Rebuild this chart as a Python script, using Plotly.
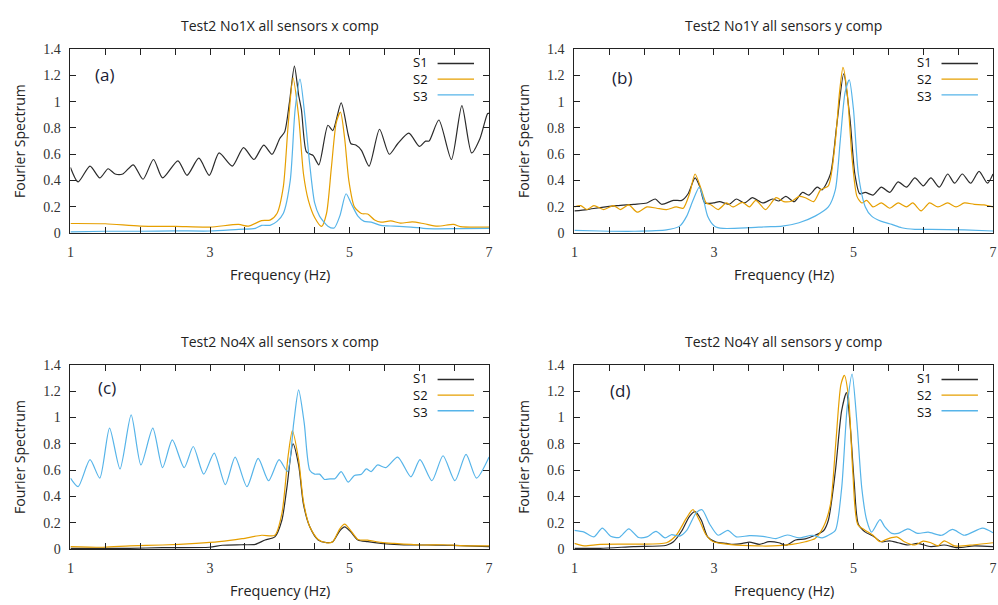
import plotly.graph_objects as go

# ---------------- data (frequency in Hz, Fourier spectrum amplitude) ----------------
# Panel (a) Test2 No1X
a_s1_f = [1.00,1.11,1.28,1.42,1.54,1.64,1.75,1.90,2.04,2.19,2.32,2.54,2.67,2.84,2.99,3.13,3.32,3.48,3.63,3.77,3.89,4.00,4.07,4.14,4.21,4.27,4.31,4.38,4.44,4.48,4.56,4.69,4.76,4.88,4.98,5.02,5.09,5.17,5.28,5.43,5.57,5.69,5.85,6.00,6.09,6.14,6.28,6.46,6.61,6.75,6.87,6.98,7.00]
a_s1_v = [0.50,0.39,0.51,0.42,0.49,0.45,0.45,0.52,0.41,0.56,0.42,0.55,0.44,0.57,0.44,0.61,0.51,0.65,0.56,0.67,0.60,0.72,0.77,1.00,1.27,1.05,0.94,0.62,0.60,0.59,0.52,0.82,0.78,0.99,0.75,0.68,0.67,0.63,0.51,0.79,0.60,0.68,0.76,0.66,0.70,0.70,0.86,0.56,0.97,0.61,0.72,0.91,0.91]
a_s2_f = [1.0,1.5,2.0,2.5,3.0,3.41,3.55,3.74,3.86,3.96,4.05,4.12,4.19,4.27,4.34,4.41,4.50,4.60,4.67,4.74,4.81,4.87,4.93,4.99,5.07,5.17,5.26,5.36,5.45,5.59,5.73,5.90,6.07,6.26,6.49,6.59,7.0]
a_s2_v = [0.074,0.072,0.054,0.052,0.047,0.067,0.054,0.096,0.10,0.15,0.35,0.82,1.18,0.89,0.45,0.25,0.12,0.052,0.15,0.50,0.84,0.92,0.72,0.40,0.20,0.15,0.146,0.10,0.084,0.094,0.077,0.086,0.072,0.054,0.067,0.05,0.047]
a_s3_f = [1.0,1.5,2.0,2.5,3.0,3.41,3.65,3.74,3.86,3.96,4.05,4.15,4.22,4.29,4.36,4.43,4.50,4.57,4.69,4.78,4.86,4.95,5.02,5.12,5.21,5.31,5.45,5.64,5.88,6.11,6.59,7.0]
a_s3_v = [0.01,0.015,0.015,0.018,0.017,0.03,0.037,0.06,0.06,0.09,0.15,0.40,0.94,1.17,0.89,0.52,0.23,0.13,0.054,0.04,0.13,0.30,0.23,0.13,0.09,0.084,0.06,0.054,0.047,0.035,0.035,0.037]

# Panel (b) Test2 No1Y
b_s1_f = [1.00,1.18,1.37,1.61,1.85,2.04,2.16,2.25,2.42,2.54,2.63,2.73,2.80,2.87,2.99,3.08,3.22,3.32,3.44,3.55,3.70,3.84,3.93,4.03,4.15,4.27,4.36,4.48,4.55,4.67,4.76,4.86,4.95,5.02,5.09,5.17,5.28,5.40,5.52,5.64,5.76,5.88,6.00,6.11,6.23,6.35,6.45,6.56,6.68,6.80,6.92,7.00]
b_s1_v = [0.17,0.18,0.195,0.21,0.22,0.23,0.26,0.22,0.25,0.25,0.30,0.42,0.35,0.23,0.23,0.24,0.22,0.26,0.23,0.27,0.23,0.26,0.245,0.28,0.24,0.31,0.29,0.35,0.33,0.45,0.82,1.21,0.87,0.45,0.30,0.31,0.29,0.35,0.31,0.39,0.35,0.42,0.36,0.42,0.35,0.45,0.38,0.45,0.38,0.47,0.38,0.45]
b_s2_f = [1.00,1.09,1.18,1.28,1.42,1.56,1.66,1.78,1.90,2.04,2.18,2.32,2.46,2.56,2.65,2.73,2.82,2.89,2.96,3.06,3.18,3.27,3.41,3.51,3.60,3.74,3.89,4.00,4.12,4.22,4.31,4.43,4.53,4.64,4.74,4.80,4.85,4.91,4.98,5.05,5.12,5.19,5.28,5.40,5.52,5.64,5.76,5.85,5.97,6.09,6.21,6.35,6.47,6.59,6.73,6.87,7.00]
b_s2_v = [0.20,0.21,0.18,0.21,0.18,0.21,0.18,0.215,0.16,0.20,0.19,0.18,0.20,0.19,0.30,0.45,0.33,0.23,0.215,0.18,0.23,0.20,0.235,0.20,0.25,0.18,0.27,0.24,0.245,0.28,0.27,0.24,0.33,0.36,0.70,1.07,1.26,1.07,0.57,0.28,0.23,0.25,0.20,0.23,0.19,0.23,0.20,0.23,0.17,0.23,0.20,0.23,0.20,0.23,0.22,0.215,0.20]
b_s3_f = [1.0,1.37,1.85,2.32,2.51,2.61,2.70,2.79,2.84,2.91,3.01,3.13,3.51,3.74,3.98,4.22,4.45,4.64,4.74,4.81,4.88,4.94,5.00,5.07,5.17,5.26,5.40,5.55,5.69,5.88,6.11,6.59,7.00]
b_s3_v = [0.022,0.017,0.015,0.025,0.054,0.13,0.25,0.35,0.28,0.13,0.054,0.037,0.042,0.049,0.054,0.08,0.13,0.20,0.33,0.70,1.07,1.165,0.94,0.45,0.20,0.13,0.09,0.067,0.042,0.030,0.030,0.025,0.017]

# Panel (c) Test2 No4X
c_s1_f = [1.0,1.85,2.32,2.99,3.18,3.46,3.65,3.79,3.93,4.03,4.10,4.19,4.27,4.34,4.43,4.55,4.67,4.76,4.86,4.93,5.02,5.12,5.26,5.45,5.64,5.92,6.11,6.35,6.59,7.0]
c_s1_v = [0.007,0.007,0.012,0.015,0.03,0.034,0.037,0.07,0.094,0.22,0.46,0.80,0.64,0.34,0.17,0.07,0.05,0.057,0.14,0.17,0.13,0.07,0.057,0.044,0.037,0.032,0.032,0.030,0.027,0.02]
c_s2_f = [1.0,1.47,1.85,2.32,2.80,3.13,3.46,3.74,3.93,4.03,4.12,4.18,4.27,4.34,4.43,4.55,4.67,4.76,4.86,4.93,5.02,5.12,5.26,5.45,5.64,6.02,6.35,6.59,7.0]
c_s2_v = [0.02,0.015,0.025,0.032,0.044,0.057,0.08,0.106,0.106,0.27,0.71,0.90,0.68,0.36,0.17,0.074,0.049,0.057,0.155,0.19,0.14,0.074,0.069,0.052,0.044,0.032,0.034,0.027,0.025]
c_s3_f = [1.00,1.11,1.28,1.42,1.56,1.71,1.87,2.01,2.18,2.32,2.46,2.63,2.76,2.91,3.06,3.22,3.36,3.53,3.69,3.84,3.99,4.11,4.20,4.27,4.35,4.43,4.50,4.57,4.64,4.72,4.79,4.88,4.98,5.07,5.17,5.24,5.31,5.40,5.52,5.69,5.88,6.01,6.18,6.34,6.51,6.67,6.82,7.00]
c_s3_v = [0.54,0.475,0.68,0.54,0.92,0.61,1.02,0.64,0.92,0.62,0.83,0.62,0.78,0.57,0.73,0.49,0.70,0.475,0.69,0.52,0.68,0.59,0.96,1.21,0.96,0.60,0.57,0.57,0.53,0.535,0.535,0.59,0.51,0.56,0.57,0.61,0.59,0.64,0.62,0.70,0.55,0.68,0.52,0.71,0.52,0.72,0.54,0.70]

# Panel (d) Test2 No4Y
d_s1_f = [1.0,1.37,1.85,2.32,2.42,2.54,2.65,2.73,2.82,2.91,3.03,3.18,3.27,3.41,3.51,3.65,3.79,3.93,4.03,4.17,4.31,4.45,4.57,4.64,4.74,4.83,4.90,4.95,5.01,5.07,5.17,5.28,5.40,5.52,5.64,5.78,5.92,6.11,6.30,6.49,6.73,7.0]
d_s1_v = [0.007,0.007,0.02,0.03,0.057,0.14,0.25,0.285,0.22,0.094,0.054,0.044,0.037,0.044,0.054,0.037,0.057,0.049,0.03,0.07,0.079,0.106,0.14,0.22,0.59,1.05,1.19,0.96,0.51,0.19,0.13,0.10,0.057,0.064,0.049,0.032,0.044,0.02,0.032,0.012,0.025,0.02]
d_s2_f = [1.0,1.14,1.37,1.85,2.32,2.46,2.61,2.70,2.80,2.89,2.99,3.18,3.51,3.84,4.12,4.31,4.45,4.57,4.67,4.75,4.82,4.87,4.93,4.99,5.06,5.17,5.28,5.38,5.50,5.62,5.73,5.88,6.00,6.11,6.21,6.30,6.45,6.73,7.0]
d_s2_v = [0.044,0.025,0.037,0.039,0.049,0.106,0.24,0.30,0.21,0.106,0.057,0.039,0.027,0.025,0.037,0.057,0.081,0.17,0.34,0.83,1.25,1.32,1.15,0.59,0.19,0.143,0.106,0.057,0.081,0.094,0.057,0.032,0.061,0.049,0.025,0.064,0.025,0.034,0.049]
d_s3_f = [1.0,1.14,1.28,1.40,1.52,1.64,1.78,1.92,2.04,2.17,2.30,2.39,2.51,2.61,2.75,2.83,2.94,3.06,3.20,3.32,3.51,3.70,3.89,4.05,4.22,4.41,4.55,4.64,4.74,4.83,4.91,4.98,5.05,5.12,5.19,5.26,5.38,5.45,5.55,5.64,5.78,5.92,6.07,6.26,6.42,6.59,6.85,7.0]
d_s3_v = [0.143,0.13,0.094,0.16,0.098,0.089,0.155,0.089,0.094,0.135,0.086,0.11,0.10,0.143,0.28,0.30,0.19,0.106,0.143,0.094,0.103,0.098,0.081,0.108,0.086,0.106,0.086,0.106,0.143,0.46,1.08,1.33,0.96,0.46,0.22,0.13,0.224,0.17,0.12,0.12,0.155,0.12,0.13,0.106,0.15,0.106,0.16,0.125]

titles = ["Test2 No1X all sensors x comp", "Test2 No1Y all sensors y comp",
          "Test2 No4X all sensors x comp", "Test2 No4Y all sensors y comp"]
panel_labels = ["(a)", "(b)", "(c)", "(d)"]
series_names = ["S1", "S2", "S3"]
x_tick_vals = [1, 1.5, 2, 2.5, 3, 3.5, 4, 4.5, 5, 5.5, 6, 6.5, 7]
x_tick_text = ["1", "", "", "", "3", "", "", "", "5", "", "", "", "7"]
y_tick_vals = [0, 0.2, 0.4, 0.6, 0.8, 1, 1.2, 1.4]
y_tick_text = ["0", "0.2", "0.4", "0.6", "0.8", "1", "1.2", "1.4"]

panels_data = [
    [(a_s1_f, a_s1_v), (a_s2_f, a_s2_v), (a_s3_f, a_s3_v)],
    [(b_s1_f, b_s1_v), (b_s2_f, b_s2_v), (b_s3_f, b_s3_v)],
    [(c_s1_f, c_s1_v), (c_s2_f, c_s2_v), (c_s3_f, c_s3_v)],
    [(d_s1_f, d_s1_v), (d_s2_f, d_s2_v), (d_s3_f, d_s3_v)],
]

# ---------------- styling / layout ----------------
W, H = 998, 605
colors = ["#2b2b2b", "#e69f00", "#56b4e9"]
SANS = "Open Sans"
SERIF = "Liberation Serif, Times New Roman, serif"

# plot rectangles in pixels: (left, right, top, bottom)
rects = [(67, 489, 43, 232), (575, 997, 43, 232), (67, 489, 367, 556), (575, 997, 367, 556)]
label_pos = [(0.081, 0.862), (0.113, 0.843), (0.088, 0.878), (0.108, 0.862)]
legend_rows = [0.921, 0.836, 0.751]

fig = go.Figure()
layout = dict(width=W, height=H, margin=dict(l=0, r=0, t=0, b=0),
              paper_bgcolor="white", plot_bgcolor="white", showlegend=False)
annotations = []
shapes = []

for i, (rect, data) in enumerate(zip(rects, panels_data)):
    n = "" if i == 0 else str(i + 1)
    L, R, T, B = rect
    xd = [L / W, R / W]
    yd = [1 - B / H, 1 - T / H]
    for (f, v), c, name in zip(data, colors, series_names):
        fig.add_trace(go.Scatter(x=f, y=v, mode="lines", name=name,
                                 line=dict(color=c, width=1.2, shape="spline", smoothing=0.7),
                                 xaxis="x" + n, yaxis="y" + n, hoverinfo="skip"))
    common = dict(showgrid=False, zeroline=False, showline=True, linecolor="#222222",
                  linewidth=1, mirror="allticks", ticks="inside", ticklen=6,
                  tickcolor="#222222", tickwidth=1)
    layout["xaxis" + n] = dict(domain=xd, anchor="y" + n, range=[1, 7],
                               tickmode="array", tickvals=x_tick_vals, ticktext=x_tick_text,
                               tickfont=dict(family=SERIF, size=14, color="#333333"),
                               ticklabelstandoff=6, **common)
    layout["yaxis" + n] = dict(domain=yd, anchor="x" + n, range=[0, 1.4],
                               tickmode="array", tickvals=y_tick_vals, ticktext=y_tick_text,
                               tickfont=dict(family=SERIF, size=14, color="#333333"),
                               ticklabelstandoff=6, **common)
    xc = (L + R) / 2 / W
    annotations.append(dict(text=titles[i], x=xc, y=1 - (T - 24) / H, xref="paper", yref="paper",
                            showarrow=False, font=dict(family=SANS, size=14, color="#222222"),
                            xanchor="center", yanchor="middle"))
    annotations.append(dict(text="Frequency (Hz)", x=xc, y=1 - (B + 42) / H, xref="paper", yref="paper",
                            showarrow=False, font=dict(family=SANS, size=14.5, color="#222222"),
                            xanchor="center", yanchor="middle"))
    annotations.append(dict(text="Fourier Spectrum", x=(L - 52) / W, y=1 - (T + B) / 2 / H,
                            xref="paper", yref="paper", textangle=-90,
                            showarrow=False, font=dict(family=SANS, size=14, color="#222222"),
                            xanchor="center", yanchor="middle"))
    annotations.append(dict(text=panel_labels[i], x=label_pos[i][0], y=label_pos[i][1],
                            xref="x" + n + " domain", yref="y" + n + " domain",
                            showarrow=False, font=dict(family=SANS, size=17, color="#1a1a33"),
                            xanchor="center", yanchor="middle"))
    # legend in gnuplot style: names (one multi-line text) then line samples
    annotations.append(dict(text="<br>".join(series_names), x=0.858, y=legend_rows[1],
                            xref="x" + n + " domain", yref="y" + n + " domain", showarrow=False,
                            align="right", font=dict(family=SANS, size=13, color="#111111"),
                            xanchor="right", yanchor="middle"))
    for ly, c in zip(legend_rows, colors):
        shapes.append(dict(type="line", x0=0.877, x1=0.964, y0=ly, y1=ly,
                           xref="x" + n + " domain", yref="y" + n + " domain",
                           line=dict(color=c, width=1.4)))

layout["annotations"] = annotations
layout["shapes"] = shapes
fig.update_layout(**layout)
# remove the browser's default page margin so the 998x605 figure fills the window exactly
fig.write_html("out.html", config={"displayModeBar": False},
               post_script="document.body.style.margin='0';document.body.style.overflow='hidden';")
